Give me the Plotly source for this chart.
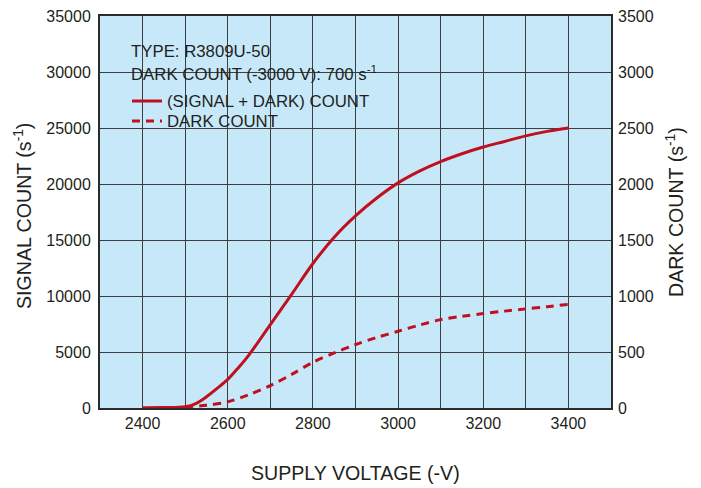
import plotly.graph_objects as go

# Data
voltage_signal = [2400, 2450, 2500, 2525, 2550, 2575, 2600, 2625, 2650, 2700, 2750, 2800,
                  2850, 2900, 2950, 3000, 3050, 3100, 3150, 3200, 3250, 3300, 3350, 3400]
signal_count = [30, 40, 110, 400, 1000, 1750, 2550, 3600, 4750, 7450, 10150, 12900,
                15250, 17150, 18750, 20100, 21150, 22000, 22700, 23300, 23800, 24300, 24700, 25000]

voltage_dark = [2500, 2550, 2600, 2650, 2700, 2750, 2800, 2850, 2900, 2950, 3000,
                3050, 3100, 3150, 3200, 3250, 3300, 3350, 3400]
dark_count = [10, 25, 55, 120, 200, 300, 408, 492, 566, 630, 685,
              740, 789, 818, 843, 865, 885, 905, 925]

x_ticks = [2400, 2600, 2800, 3000, 3200, 3400]

RED = "#c0101f"
BG = "#c7e8f8"
TXT = "#231f20"
GRID = "#3a3f42"
FONT = "Liberation Sans, Arial, sans-serif"

# The page body has an 8px margin, so the figure is drawn at (8, 8).
OFF = 8
W, H = 701 - OFF, 488 - OFF
# target plot area in page pixels: x 100..611, y 16..408
PL, PR, PT, PB = 100, 611, 16, 408
L, R, T, B = PL - OFF, 701 - PR, PT - OFF, 488 - PB
PW, PH = PR - PL, PB - PT


def px(xp):
    return (xp - PL) / PW


def py(yp):
    return (PB - yp) / PH


fig = go.Figure()
fig.add_trace(go.Scatter(x=voltage_signal, y=signal_count, mode="lines",
                         name="(SIGNAL + DARK) COUNT",
                         line=dict(color=RED, width=3, shape="spline", smoothing=0.9),
                         yaxis="y", legend="legend"))
fig.add_trace(go.Scatter(x=voltage_dark, y=dark_count, mode="lines",
                         name="DARK COUNT",
                         line=dict(color=RED, width=3, dash="8px,6px", shape="spline",
                                   smoothing=0.9),
                         yaxis="y2", legend="legend2"))

leg_common = dict(xanchor="left", yanchor="middle", bgcolor="rgba(0,0,0,0)",
                  borderwidth=0, font=dict(size=16.8, color=TXT), itemwidth=30)

fig.update_layout(
    width=W, height=H,
    margin=dict(l=L, r=R, t=T, b=B, autoexpand=False),
    paper_bgcolor="white",
    plot_bgcolor=BG,
    font=dict(family=FONT, size=16, color=TXT),
    showlegend=True,
    legend=dict(x=px(127), y=py(101), **leg_common),
    legend2=dict(x=px(127), y=py(121), **leg_common),
    xaxis=dict(range=[2300, 3500], tickvals=x_ticks, showgrid=True,
               gridcolor=GRID, gridwidth=1,
               minor=dict(dtick=100, tick0=2300, showgrid=True, gridcolor=GRID, gridwidth=1),
               showline=True, linecolor="#2b2b2b", linewidth=2, mirror=True,
               ticks="", zeroline=False, automargin=False,
               tickfont=dict(size=16, color=TXT)),
    yaxis=dict(range=[0, 35000], dtick=5000, tickformat="d", showgrid=True,
               gridcolor=GRID, gridwidth=1, showline=True, linecolor="#2b2b2b",
               linewidth=2, mirror=True, ticks="", zeroline=False, automargin=False,
               ticklabelstandoff=4, ticklabeloverflow="allow",
               tickfont=dict(size=16, color=TXT)),
    yaxis2=dict(range=[0, 3500], dtick=500, tickformat="d", overlaying="y",
                side="right", showgrid=False, ticks="", zeroline=False,
                showline=False, automargin=False, ticklabelstandoff=6,
                ticklabeloverflow="allow",
                tickfont=dict(size=16, color=TXT)),
)

# background masks behind the text block (above grid, below traces)
fig.add_shape(type="rect", xref="paper", yref="paper", layer="between",
              x0=px(125), x1=px(379), y0=py(83), y1=py(38),
              fillcolor=BG, line=dict(width=0))
fig.add_shape(type="rect", xref="paper", yref="paper", layer="between",
              x0=px(125), x1=px(376), y0=py(136), y1=py(90),
              fillcolor=BG, line=dict(width=0))

# Axis titles
fig.add_annotation(text="SUPPLY VOLTAGE (-V)", xref="paper", yref="paper",
                   x=px(355), y=py(473), xanchor="center", yanchor="middle",
                   showarrow=False, font=dict(size=19.6, color=TXT))
fig.add_annotation(text="SIGNAL COUNT (s<sup>-1</sup>)", xref="paper", yref="paper",
                   x=px(23), y=py(216), xanchor="center", yanchor="middle",
                   textangle=-90, showarrow=False,
                   font=dict(size=19.6, color=TXT))
fig.add_annotation(text="DARK COUNT (s<sup>-1</sup>)", xref="paper", yref="paper",
                   x=px(675), y=py(212), xanchor="center", yanchor="middle",
                   textangle=-90, showarrow=False,
                   font=dict(size=19.6, color=TXT))

# Info text
fig.add_annotation(text="TYPE: R3809U-50", xref="paper", yref="paper",
                   x=px(129), y=py(51), xanchor="left", yanchor="middle",
                   showarrow=False, font=dict(size=16.8, color=TXT))
fig.add_annotation(text="DARK COUNT (-3000 V): 700 s<sup>-1</sup>", xref="paper", yref="paper",
                   x=px(129), y=py(73), xanchor="left", yanchor="middle",
                   showarrow=False, font=dict(size=16.8, color=TXT))

fig.write_html("out.html")
